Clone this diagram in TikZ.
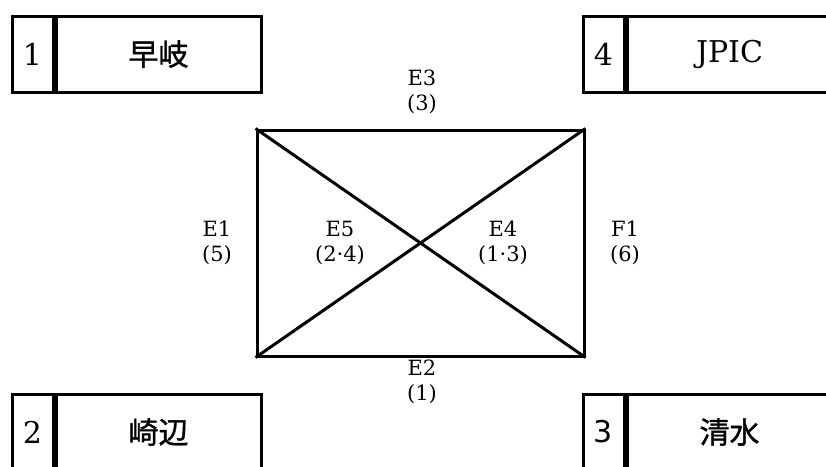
\documentclass[tikz,border=0pt]{standalone}
\usepackage{fontspec}
\setmainfont{DejaVu Serif}
\newfontfamily\cjk[FakeBold=1.2]{Noto Sans CJK JP}
\newfontfamily\gothic{DejaVu Sans}
\usetikzlibrary{positioning}
\newcommand{\lblfont}{\fontsize{21pt}{25pt}\selectfont}
\newcommand{\cellfont}{\fontsize{30pt}{34pt}\selectfont}

\begin{document}
\begin{tikzpicture}[x=1pt, y=-1pt,
		cellbox/.style={draw, line width=3pt, minimum height=76pt, inner sep=0pt},
		numcell/.style={cellbox, minimum width=41pt, font=\cellfont},
		namecell/.style={cellbox, minimum width=205pt, font=\cellfont},
		lbl/.style={font=\lblfont, align=center, inner sep=0pt}]
		\useasboundingbox (0,0) rectangle (826,466);
		\clip (0,0) rectangle (826,466);

		% stations
		\node[numcell] (n1) at (32.5,54) {1};
		\node[namecell, right=0pt of n1] (s1) {\cjk 早岐};
		\node[numcell] (n4) at (603.5,54) {4};
		\node[namecell, right=0pt of n4] (s4) {JPIC};
		\node[numcell] (n2) at (32.5,432) {2};
		\node[namecell, right=0pt of n2] (s2) {\cjk 崎辺};
		\node[numcell, font=\cellfont\gothic] (n3) at (603.5,432) {3};
		\node[namecell, right=0pt of n3] (s3) {\cjk 清水};

		% field
		\node[draw, line width=3pt, minimum width=327pt, minimum height=226pt, inner sep=0pt] (field) at (420.5,243) {};
		\draw[line width=3pt] (field.north west) -- (field.south east);
		\draw[line width=3pt] (field.south west) -- (field.north east);

		% labels
		\node[lbl] (e3) at (422,92) {E3\\(3)};
		\node[lbl] (e1) at (217,243) {E1\\(5)};
		\node[lbl] (e5) at (340,243) {E5\\(2·4)};
		\node[lbl] (e4) at (503,243) {E4\\(1·3)};
		\node[lbl] (f1) at (625,243) {F1\\(6)};
		\node[lbl] (e2) at (422,382) {E2\\(1)};
	\end{tikzpicture}
\end{document}
